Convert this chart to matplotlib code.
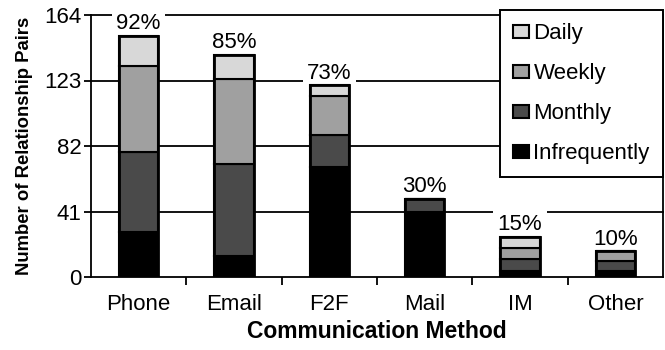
import numpy as np
import matplotlib
matplotlib.use('Agg')
import matplotlib.pyplot as plt

plt.rcParams['font.family'] = ['Liberation Sans', 'DejaVu Sans']

methods = ['Phone', 'Email', 'F2F', 'Mail', 'IM', 'Other']
infrequently = [28, 13, 69, 41, 4, 4]
monthly = [50, 58, 20, 8, 7, 6]
weekly = [54, 53, 24, 0, 7, 6]
daily = [19, 15, 7, 0, 7, 0]
pct_labels = ['92%', '85%', '73%', '30%', '15%', '10%']

series = [('Infrequently', infrequently, '#000000'),
          ('Monthly', monthly, '#4a4a4a'),
          ('Weekly', weekly, '#a0a0a0'),
          ('Daily', daily, '#d8d8d8')]

fig = plt.figure(figsize=(6.65, 3.5), dpi=100)
ax = fig.add_axes([91 / 665, 1 - 277 / 350, 572 / 665, 262 / 350])

x = np.arange(len(methods))
bottom = np.zeros(len(methods))
handles = {}
for name, vals, col in series:
    vals = np.array(vals)
    b = ax.bar(x, vals, 0.41, bottom=bottom, color=col, edgecolor='black',
               linewidth=1.5, zorder=2, label=name)
    handles[name] = b
    bottom += vals

# outline around each whole bar
ax.bar(x, bottom, 0.41, fill=False, edgecolor='black', linewidth=2, zorder=3)

for yv in [41, 82, 123, 164]:
    ax.axhline(yv, color='black', linewidth=1.3, zorder=0.5, clip_on=False)

# labels sit above the grid lines but below the bars
for xi, tot, lab in zip(x, bottom, pct_labels):
    ax.text(xi, tot + 1, lab, ha='center', va='bottom', fontsize=16, zorder=1,
            bbox=dict(facecolor='white', edgecolor='none', pad=3))

ax.set_xlim(-0.5, 5.5)
ax.set_ylim(0, 164)
ax.set_yticks([0, 41, 82, 123, 164])
ax.set_xticks(x)
ax.set_xticklabels(methods)
ax.set_xticks(np.arange(0.5, 5.5, 1), minor=True)
ax.tick_params(axis='x', which='major', length=0, labelsize=16, pad=12)
ax.tick_params(axis='x', which='minor', length=6, width=1.3, direction='out')
ax.tick_params(axis='y', length=5, width=1.3, labelsize=16, direction='out', pad=2)
ax.spines['top'].set_visible(False)
for s in ['left', 'bottom', 'right']:
    ax.spines[s].set_linewidth(1.3)

ax.set_xlabel('Communication Method', fontsize=16.5, fontweight='bold', labelpad=4)
ax.set_ylabel('Number of Relationship Pairs', fontsize=13.3, fontweight='bold', labelpad=8)

order = ['Daily', 'Weekly', 'Monthly', 'Infrequently']
leg = ax.legend([handles[k] for k in order], order, loc='upper right',
                bbox_to_anchor=(663 / 665, 1 - 10 / 350), bbox_transform=fig.transFigure,
                fontsize=16, fancybox=False, framealpha=1, edgecolor='black',
                handlelength=0.72, handleheight=0.54, handletextpad=0.2,
                labelspacing=0.85, borderpad=0.6, borderaxespad=0)
leg.get_frame().set_linewidth(1.4)
leg.set_zorder(5)

fig.savefig('out.png', dpi=100)
